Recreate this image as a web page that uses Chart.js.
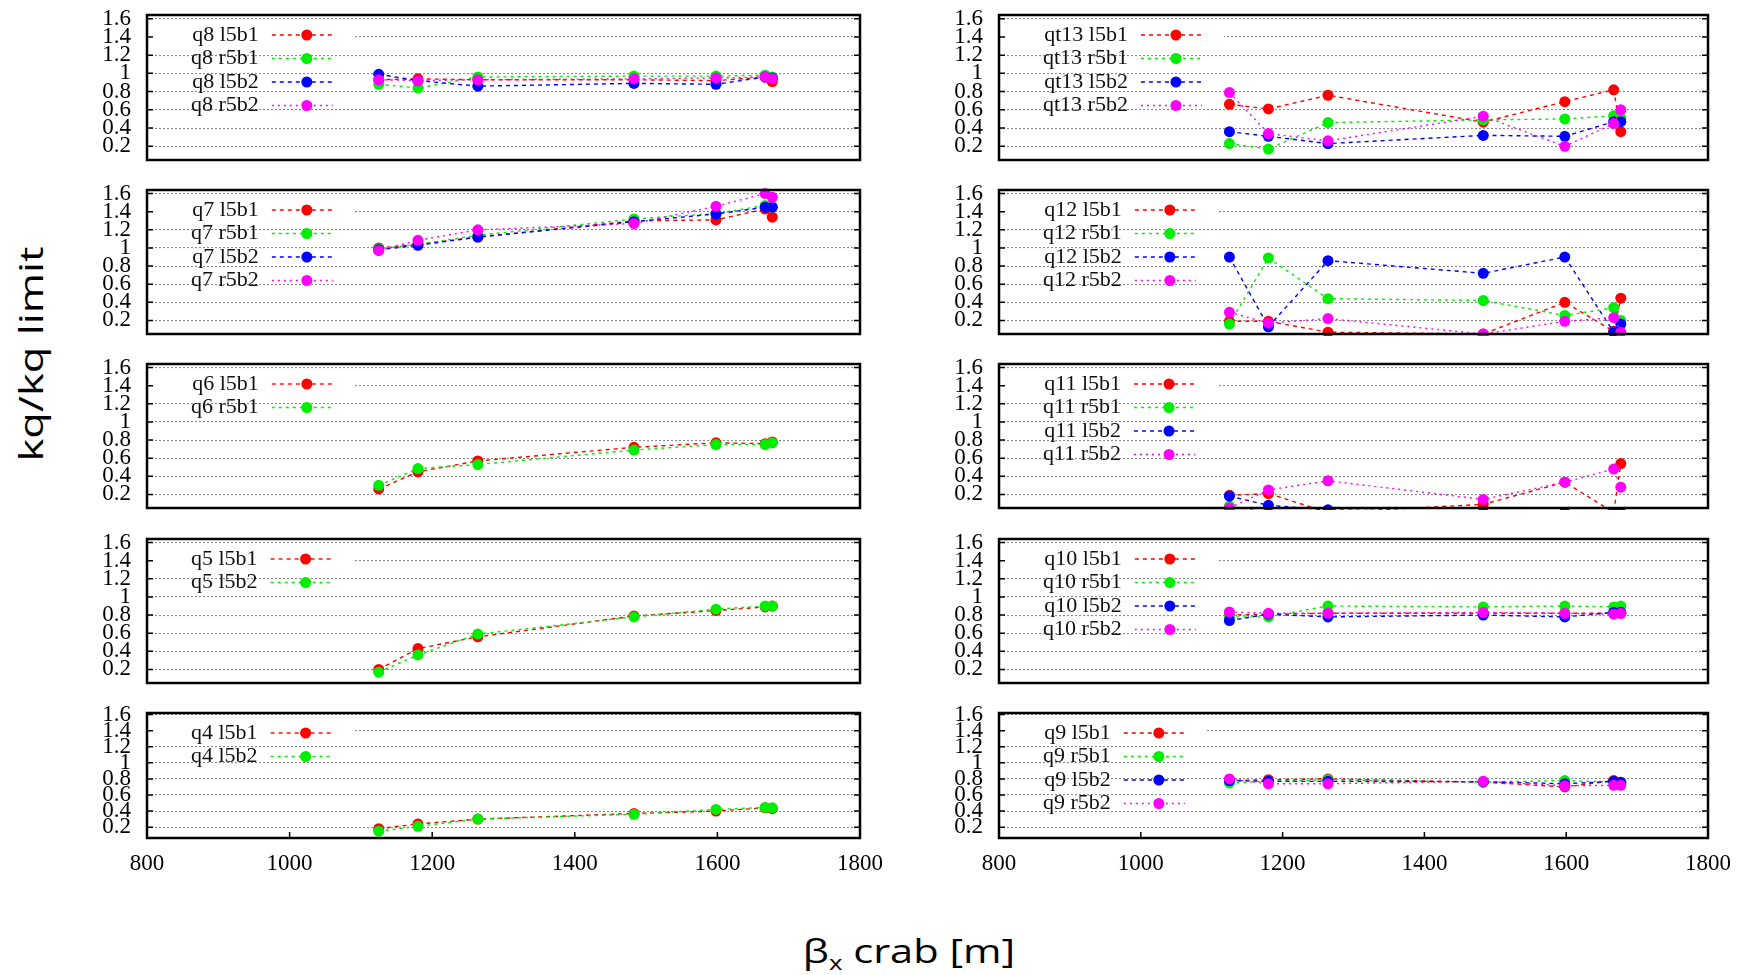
<!DOCTYPE html>
<html>
<head>
<meta charset="utf-8">
<script src="https://cdn.jsdelivr.net/npm/chart.js@4.4.1/dist/chart.umd.min.js"></script>
<style>
html,body{margin:0;padding:0;background:#fff;width:1739px;height:975px;overflow:hidden;}
#wrap{position:relative;width:1739px;height:975px;background:#fff;overflow:hidden;}
#wrap canvas{position:absolute;}
.ytitle{position:absolute;left:31px;top:354px;font-family:'Open Sans',sans-serif;font-size:32px;line-height:1;white-space:nowrap;color:#000;transform:translate(-50%,-50%) rotate(-90deg) scaleX(1.36);}
.xtitle{position:absolute;left:909px;top:934px;font-family:'Open Sans',sans-serif;font-size:33px;line-height:1;white-space:nowrap;color:#000;transform:translate(-50%,0) scaleX(1.26);}
.xtitle span{font-size:0.62em;position:relative;top:0.35em;}
</style>
</head>
<body>
<div id="wrap">
  <div class="ytitle">kq/kq limit</div>
  <div class="xtitle">β<span>x</span> crab [m]</div>
</div>
<script>
// ---------- data ----------
const xBeta = [1125, 1180, 1264, 1483, 1598, 1667, 1677];
const xTicks = [800, 1000, 1200, 1400, 1600, 1800];
const yTicks = [0.2, 0.4, 0.6, 0.8, 1.0, 1.2, 1.4, 1.6];

const q8Labels = ['q8 l5b1', 'q8 r5b1', 'q8 l5b2', 'q8 r5b2'];
const q8_l5b1 = [0.93, 0.94, 0.93, 0.93, 0.92, 0.96, 0.91];
const q8_r5b1 = [0.88, 0.84, 0.96, 0.97, 0.97, 0.98, 0.96];
const q8_l5b2 = [0.99, 0.92, 0.86, 0.89, 0.88, 0.96, 0.95];
const q8_r5b2 = [0.93, 0.92, 0.93, 0.94, 0.95, 0.96, 0.945];

const q7Labels = ['q7 l5b1', 'q7 r5b1', 'q7 l5b2', 'q7 r5b2'];
const q7_l5b1 = [1.00, 1.04, 1.12, 1.30, 1.31, 1.43, 1.34];
const q7_r5b1 = [0.99, 1.04, 1.14, 1.32, 1.38, 1.47, 1.45];
const q7_l5b2 = [0.98, 1.03, 1.12, 1.29, 1.375, 1.45, 1.45];
const q7_r5b2 = [0.97, 1.085, 1.20, 1.27, 1.46, 1.60, 1.56];

const q6Labels = ['q6 l5b1', 'q6 r5b1'];
const q6_l5b1 = [0.26, 0.45, 0.57, 0.72, 0.77, 0.76, 0.78];
const q6_r5b1 = [0.30, 0.485, 0.53, 0.69, 0.75, 0.75, 0.77];

const q5Labels = ['q5 l5b1', 'q5 l5b2'];
const q5_l5b1 = [0.20, 0.43, 0.56, 0.79, 0.85, 0.89, 0.90];
const q5_l5b2 = [0.17, 0.36, 0.59, 0.78, 0.865, 0.90, 0.90];

const q4Labels = ['q4 l5b1', 'q4 l5b2'];
const q4_l5b1 = [0.18, 0.24, 0.30, 0.37, 0.40, 0.44, 0.43];
const q4_l5b2 = [0.15, 0.21, 0.30, 0.36, 0.42, 0.445, 0.44];

const qt13Labels = ['qt13 l5b1', 'qt13 r5b1', 'qt13 l5b2', 'qt13 r5b2'];
const qt13_l5b1 = [0.66, 0.61, 0.76, 0.465, 0.69, 0.82, 0.36];
const qt13_r5b1 = [0.23, 0.17, 0.46, 0.49, 0.50, 0.535, 0.51];
const qt13_l5b2 = [0.36, 0.31, 0.23, 0.32, 0.31, 0.47, 0.47];
const qt13_r5b2 = [0.79, 0.34, 0.26, 0.53, 0.20, 0.45, 0.60];

const q12Labels = ['q12 l5b1', 'q12 r5b1', 'q12 l5b2', 'q12 r5b2'];
const q12_l5b1 = [0.19, 0.19, 0.07, 0.05, 0.40, 0.08, 0.445];
const q12_r5b1 = [0.16, 0.89, 0.44, 0.42, 0.255, 0.34, 0.20];
const q12_l5b2 = [0.90, 0.13, 0.86, 0.72, 0.90, 0.07, 0.16];
const q12_r5b2 = [0.29, 0.17, 0.22, 0.05, 0.19, 0.23, 0.07];

const q11Labels = ['q11 l5b1', 'q11 r5b1', 'q11 l5b2', 'q11 r5b2'];
const q11_l5b1 = [0.19, 0.21, 0.00, 0.09, 0.335, 0.00, 0.54];
const q11_r5b1 = [0.07, 0.00, 0.00, 0.00, 0.00, 0.00, 0.00];
const q11_l5b2 = [0.18, 0.08, 0.03, 0.00, 0.00, 0.00, 0.00];
const q11_r5b2 = [0.05, 0.25, 0.35, 0.145, 0.335, 0.48, 0.28];

const q10Labels = ['q10 l5b1', 'q10 r5b1', 'q10 l5b2', 'q10 r5b2'];
const q10_l5b1 = [0.80, 0.81, 0.82, 0.82, 0.82, 0.82, 0.82];
const q10_r5b1 = [0.78, 0.78, 0.90, 0.89, 0.90, 0.89, 0.90];
const q10_l5b2 = [0.74, 0.81, 0.78, 0.80, 0.78, 0.83, 0.83];
const q10_r5b2 = [0.835, 0.82, 0.82, 0.83, 0.82, 0.81, 0.82];

const q9Labels = ['q9 l5b1', 'q9 r5b1', 'q9 l5b2', 'q9 r5b2'];
const q9_l5b1 = [0.78, 0.79, 0.80, 0.76, 0.70, 0.78, 0.75];
const q9_r5b1 = [0.75, 0.77, 0.79, 0.76, 0.78, 0.76, 0.75];
const q9_l5b2 = [0.78, 0.77, 0.77, 0.765, 0.74, 0.77, 0.76];
const q9_r5b2 = [0.80, 0.74, 0.74, 0.77, 0.715, 0.72, 0.72];

// ---------- layout / style ----------
const cols = [{x0:147, x1:860}, {x0:999, x1:1708}];
const rows = [{y0:15, y1:160}, {y0:190, y1:334}, {y0:364, y1:508}, {y0:539, y1:683}, {y0:713, y1:838}];
const yRangeTop = {min:0.05, max:1.64};
const yRangeBottom = {min:0.065, max:1.62};
const seriesColors = ['#ff0000', '#00ee00', '#0000ff', '#ff00ff'];
const seriesDash = [[4,4], [3,4], [4,4], [2,4]];
const tickFont = {family:'"Liberation Serif", serif', size:23};
const legendFont = '22px "Liberation Serif", serif';

const panels = [
  {col:0, row:0, labels:q8Labels, series:[q8_l5b1, q8_r5b1, q8_l5b2, q8_r5b2]},
  {col:0, row:1, labels:q7Labels, series:[q7_l5b1, q7_r5b1, q7_l5b2, q7_r5b2]},
  {col:0, row:2, labels:q6Labels, series:[q6_l5b1, q6_r5b1]},
  {col:0, row:3, labels:q5Labels, series:[q5_l5b1, q5_l5b2]},
  {col:0, row:4, labels:q4Labels, series:[q4_l5b1, q4_l5b2]},
  {col:1, row:0, labels:qt13Labels, series:[qt13_l5b1, qt13_r5b1, qt13_l5b2, qt13_r5b2]},
  {col:1, row:1, labels:q12Labels, series:[q12_l5b1, q12_r5b1, q12_l5b2, q12_r5b2]},
  {col:1, row:2, labels:q11Labels, series:[q11_l5b1, q11_r5b1, q11_l5b2, q11_r5b2]},
  {col:1, row:3, labels:q10Labels, series:[q10_l5b1, q10_r5b1, q10_l5b2, q10_r5b2]},
  {col:1, row:4, labels:q9Labels, series:[q9_l5b1, q9_r5b1, q9_l5b2, q9_r5b2]}
];

function legendTextRight(chart) {
  const ctx = chart.ctx;
  ctx.save();
  ctx.font = legendFont;
  let w = 0;
  chart.data.datasets.forEach(d => { w = Math.max(w, ctx.measureText(d.label).width); });
  ctx.restore();
  return chart.chartArea.left + 44 + w;
}

const framePlugin = {
  id: 'frame',
  beforeDatasetsDraw(chart) {
    const {ctx, chartArea: ca, scales: {y}} = chart;
    const tr = legendTextRight(chart);
    const py = y.getPixelForValue(1.4);
    ctx.save();
    ctx.fillStyle = '#fff';
    ctx.fillRect(ca.left + 1, py - 2, tr + 95 - ca.left, 4);
    ctx.restore();
  },
  afterDatasetsDraw(chart, args, opts) {
    const {ctx, chartArea: ca, scales: {x, y}} = chart;
    ctx.save();
    ctx.strokeStyle = '#000';
    ctx.lineWidth = 1.5;
    ctx.setLineDash([]);
    ctx.beginPath();
    yTicks.forEach(v => {
      const py = y.getPixelForValue(v);
      ctx.moveTo(ca.left, py); ctx.lineTo(ca.left + 6, py);
      ctx.moveTo(ca.right, py); ctx.lineTo(ca.right - 6, py);
    });
    if (opts.bottom) {
      xTicks.forEach(v => {
        const px = x.getPixelForValue(v);
        ctx.moveTo(px, ca.bottom); ctx.lineTo(px, ca.bottom - 6);
      });
    }
    ctx.stroke();
    ctx.lineWidth = 2.5;
    ctx.strokeRect(ca.left, ca.top, ca.right - ca.left, ca.bottom - ca.top);
    const tr = legendTextRight(chart);
    ctx.font = legendFont;
    ctx.textAlign = 'right';
    ctx.textBaseline = 'middle';
    chart.data.datasets.forEach((d, i) => {
      const yy = ca.top + 20 + i * 23.5;
      ctx.fillStyle = '#111';
      ctx.fillText(d.label, tr, yy);
      ctx.strokeStyle = d.borderColor;
      ctx.lineWidth = 1.4;
      ctx.setLineDash(d.borderDash);
      ctx.beginPath();
      ctx.moveTo(tr + 13, yy); ctx.lineTo(tr + 74, yy);
      ctx.stroke();
      ctx.setLineDash([]);
      ctx.fillStyle = d.pointBackgroundColor;
      ctx.beginPath();
      ctx.arc(tr + 48, yy, 5.5, 0, Math.PI * 2);
      ctx.fill();
    });
    ctx.restore();
  }
};

function fmtY(v) {
  return String(Math.round(v * 10) / 10);
}
function fmtX(v) {
  return String(Math.round(v));
}

function build() {
  const wrap = document.getElementById('wrap');
  panels.forEach(p => {
    const c = cols[p.col], r = rows[p.row];
    const bottom = p.row === 4;
    const PL = 80, PT = 14, PR = 34, PB = bottom ? 46 : 14;
    const w = (c.x1 - c.x0) + PL + PR;
    const h = (r.y1 - r.y0) + PT + PB;
    const cv = document.createElement('canvas');
    cv.width = w; cv.height = h;
    cv.style.left = (c.x0 - PL) + 'px';
    cv.style.top = (r.y0 - PT) + 'px';
    cv.style.width = w + 'px';
    cv.style.height = h + 'px';
    wrap.appendChild(cv);
    const yr = bottom ? yRangeBottom : yRangeTop;
    const n = p.series.length;
    const datasets = p.series.map((s, i) => ({
      label: p.labels[i],
      data: s.map((v, k) => ({x: xBeta[k], y: v})),
      borderColor: seriesColors[i],
      backgroundColor: seriesColors[i],
      pointBackgroundColor: seriesColors[i],
      pointBorderWidth: 0,
      pointRadius: 5.5,
      borderWidth: 1.4,
      borderDash: seriesDash[i],
      tension: 0,
      fill: false,
      order: n - i,
      clip: {left: 8, right: 8, top: 8, bottom: 2}
    }));
    new Chart(cv, {
      type: 'line',
      data: {datasets},
      options: {
        responsive: false,
        animation: false,
        devicePixelRatio: 1,
        layout: {padding: {top: PT, right: PR, left: 0, bottom: 0}},
        plugins: {legend: {display: false}, tooltip: {enabled: false}, frame: {bottom}},
        events: [],
        scales: {
          x: {
            type: 'linear', min: 800, max: 1800,
            afterBuildTicks: s => { s.ticks = xTicks.map(v => ({value: v})); },
            afterFit: s => { s.height = PB; s.paddingLeft = 0; s.paddingRight = 0; s.paddingTop = 0; s.paddingBottom = 0; },
            grid: {display: false},
            border: {display: false},
            ticks: {display: bottom, font: tickFont, color: '#000', padding: 4, maxRotation: 0, autoSkip: false, callback: v => fmtX(v)}
          },
          y: {
            type: 'linear', min: yr.min, max: yr.max,
            afterBuildTicks: s => { s.ticks = yTicks.map(v => ({value: v})); },
            afterFit: s => { s.width = PL; s.paddingTop = 0; s.paddingBottom = 0; s.paddingLeft = 0; s.paddingRight = 0; },
            grid: {color: '#8a8a8a', lineWidth: 1.1, drawTicks: false},
            border: {display: false, dash: [2, 2]},
            ticks: {font: tickFont, color: '#000', padding: 16, autoSkip: false, callback: v => fmtY(v)}
          }
        }
      },
      plugins: [framePlugin]
    });
  });
}

Promise.all([
  document.fonts.load('23px "Liberation Serif"'),
  document.fonts.load('30px "Open Sans"')
]).then(build, build);
</script>
</body>
</html>
